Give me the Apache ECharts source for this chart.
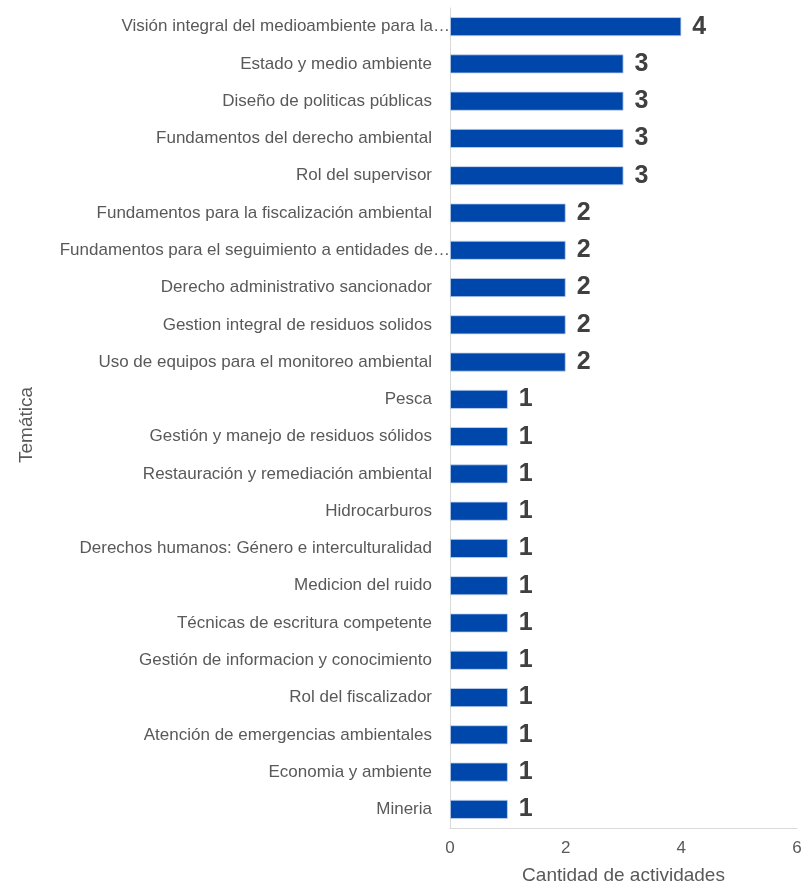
<!DOCTYPE html>
<html><head><meta charset="utf-8">
<script src="https://cdn.jsdelivr.net/npm/echarts@6/dist/echarts.min.js"></script>
<style>html,body{margin:0;padding:0;background:#fff}#c{width:802px;height:883px}</style>
</head><body><div id="c"></div>
<script>
const categories = [
  "Visión integral del medioambiente para la…",
  "Estado y medio ambiente",
  "Diseño de politicas públicas",
  "Fundamentos del derecho ambiental",
  "Rol del supervisor",
  "Fundamentos para la fiscalización ambiental",
  "Fundamentos para el seguimiento a entidades de…",
  "Derecho administrativo sancionador",
  "Gestion integral de residuos solidos",
  "Uso de equipos para el monitoreo ambiental",
  "Pesca",
  "Gestión y manejo de residuos sólidos",
  "Restauración y remediación ambiental",
  "Hidrocarburos",
  "Derechos humanos: Género e interculturalidad",
  "Medicion del ruido",
  "Técnicas de escritura competente",
  "Gestión de informacion y conocimiento",
  "Rol del fiscalizador",
  "Atención de emergencias ambientales",
  "Economia y ambiente",
  "Mineria"
];
const values = [4,3,3,3,3,2,2,2,2,2,1,1,1,1,1,1,1,1,1,1,1,1];
const xTicks = [0,2,4,6];

const font = "'Liberation Sans', Arial, sans-serif";
const chart = echarts.init(document.getElementById('c'));
chart.setOption({
  animation: false,
  grid: {left: 450, right: 5, top: 8, bottom: 55, containLabel: false, outerBoundsMode: 'none'},
  xAxis: {
    type: 'value', min: 0, max: 6, interval: 2,
    name: 'Cantidad de actividades', nameLocation: 'middle', nameGap: 38,
    nameTextStyle: {fontFamily: font, fontSize: 19, color: '#595959'},
    axisLine: {show: true, lineStyle: {color: '#d9d9d9', width: 1}},
    axisTick: {show: false},
    splitLine: {show: false},
    axisLabel: {fontFamily: font, fontSize: 17, color: '#595959', margin: 12,
      formatter: v => xTicks.includes(v) ? String(v) : ''}
  },
  yAxis: {
    type: 'category', data: categories, inverse: true,
    name: 'Temática', nameLocation: 'middle', nameGap: 414, nameRotate: 90,
    nameTextStyle: {fontFamily: font, fontSize: 19, color: '#595959', padding: [0, 14, 0, 0]},
    axisLine: {show: true, lineStyle: {color: '#d9d9d9', width: 1}},
    axisTick: {show: false},
    axisLabel: {
      margin: 0, fontFamily: font, fontSize: 17, color: '#595959',
      formatter: v => v.endsWith('…') ? '{t|' + v + '}' : '{n|' + v + '}',
      rich: {
        n: {fontFamily: font, fontSize: 17, color: '#595959', padding: [0, 18, 0, 0]},
        t: {fontFamily: font, fontSize: 17, color: '#595959', padding: [0, 0, 0, 0]}
      }
    }
  },
  series: [{
    type: 'bar', data: values, barWidth: 19,
    itemStyle: {color: '#0047AB', borderColor: '#c5d6ef', borderWidth: 0.8},
    label: {show: true, position: 'right', distance: 11,
      fontFamily: font, fontSize: 25, fontWeight: 'bold', color: '#404040'}
  }]
});
</script></body></html>
